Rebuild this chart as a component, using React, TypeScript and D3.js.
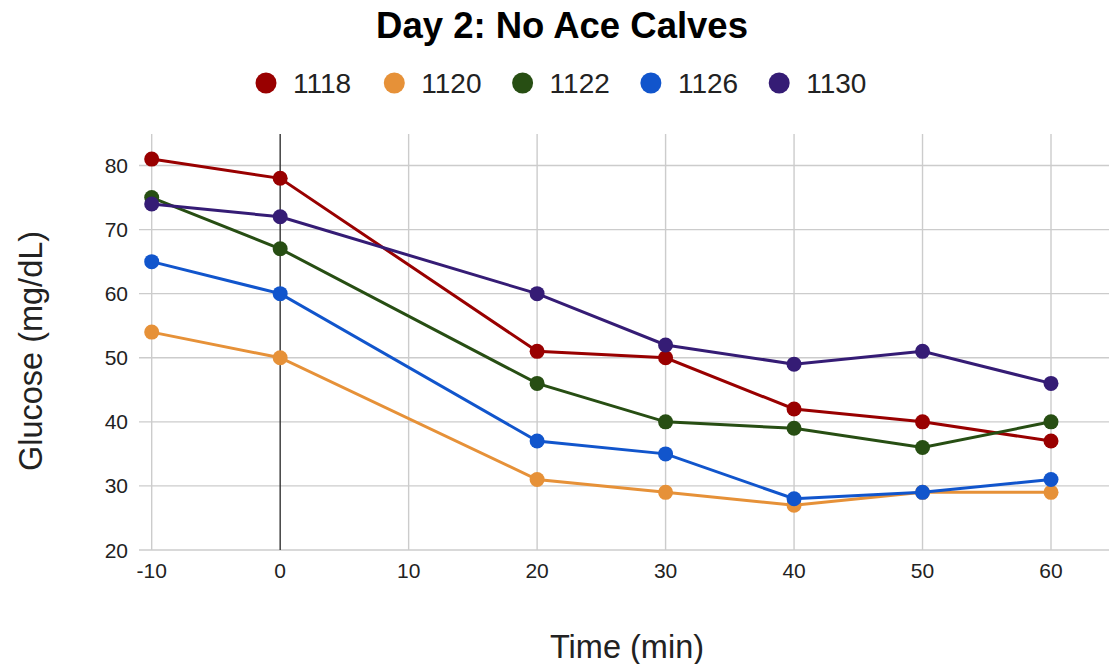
import React from "react";
import * as d3 from "d3";

const times = [-10, 0, 20, 30, 40, 50, 60];
const seriesNames = ["1118", "1120", "1122", "1126", "1130"];
const s1118 = [81, 78, 51, 50, 42, 40, 37];
const s1120 = [54, 50, 31, 29, 27, 29, 29];
const s1122 = [75, 67, 46, 40, 39, 36, 40];
const s1126 = [65, 60, 37, 35, 28, 29, 31];
const s1130 = [74, 72, 60, 52, 49, 51, 46];
const colors = ["#990000", "#e69138", "#274e13", "#1155cc", "#351c75"];
const xTicks = [-10, 0, 10, 20, 30, 40, 50, 60];
const yTicks = [20, 30, 40, 50, 60, 70, 80];

const title = "Day 2: No Ace Calves";
const xTitle = "Time (min)";
const yTitle = "Glucose (mg/dL)";

const W = 1109;
const H = 664;
const FONT = "'Liberation Sans', Arial, sans-serif";

export default function App() {
  const allSeries = [s1118, s1120, s1122, s1126, s1130];
  const x = d3.scaleLinear().domain([-10, 60]).range([151.7, 1051]);
  const y = d3.scaleLinear().domain([20, 80]).range([550, 165.5]);
  const plotTop = 134;
  const gridLeft = 139;
  const line = d3
    .line<number>()
    .x((_, i) => x(times[i]))
    .y((d) => y(d));

  const legendX0 = 266;
  const legendStep = 128.3;

  return (
    <svg
      width={W}
      height={H}
      style={{ position: "absolute", left: 0, top: 0, background: "#fff" }}
      fontFamily={FONT}
    >
      <rect width={W} height={H} fill="#fff" />
      <text x={562} y={38} textAnchor="middle" fontSize={36.5} fontWeight="bold" fill="#000">
        {title}
      </text>
      {seriesNames.map((n, i) => (
        <g key={n}>
          <circle cx={legendX0 + i * legendStep} cy={83} r={10.5} fill={colors[i]} />
          <text x={legendX0 + i * legendStep + 27} y={93} fontSize={28} fill="#222">
            {n}
          </text>
        </g>
      ))}
      {yTicks.map((t) => (
        <g key={"y" + t}>
          <line x1={gridLeft} x2={W} y1={y(t)} y2={y(t)} stroke="#cccccc" strokeWidth={1.4} />
          <text x={128} y={y(t) + 7.5} textAnchor="end" fontSize={21} fill="#222">
            {t}
          </text>
        </g>
      ))}
      {xTicks.map((t) => (
        <g key={"x" + t}>
          {t !== 0 && (
            <line x1={x(t)} x2={x(t)} y1={plotTop} y2={y(20)} stroke="#cccccc" strokeWidth={1.4} />
          )}
          <text x={x(t)} y={578} textAnchor="middle" fontSize={21} fill="#222">
            {t}
          </text>
        </g>
      ))}
      <line x1={x(0)} x2={x(0)} y1={plotTop} y2={y(20)} stroke="#333333" strokeWidth={1.4} />
      {allSeries.map((s, i) => (
        <g key={"s" + i}>
          <path d={line(s) || ""} fill="none" stroke={colors[i]} strokeWidth={3} />
          {s.map((v, j) => (
            <circle key={j} cx={x(times[j])} cy={y(v)} r={7.5} fill={colors[i]} />
          ))}
        </g>
      ))}
      <text x={627} y={658} textAnchor="middle" fontSize={32.5} fill="#222">
        {xTitle}
      </text>
      <text
        transform={`translate(42,351) rotate(-90)`}
        textAnchor="middle"
        fontSize={32.5}
        fill="#222"
      >
        {yTitle}
      </text>
    </svg>
  );
}
